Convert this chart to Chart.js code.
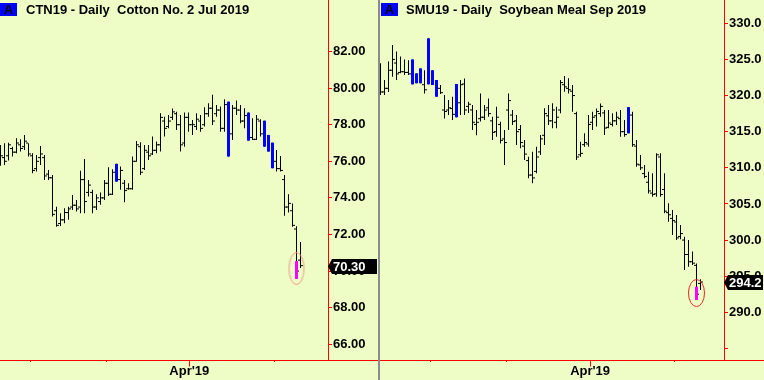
<!DOCTYPE html>
<html><head><meta charset="utf-8">
<script src="https://cdn.jsdelivr.net/npm/chart.js@4.4.1/dist/chart.umd.min.js"></script>
<style>
html,body{margin:0;padding:0;background:#eefcc6;}
#wrap{position:relative;width:764px;height:380px;overflow:hidden;background:#eefcc6;}
canvas{position:absolute;top:0;}
#c1{left:0;}
#c2{left:380px;}
#sep{position:absolute;left:378px;top:0;width:2px;height:380px;background:#8c8c8c;}
.ttl{position:absolute;top:2px;font:bold 13px "Liberation Sans",Arial,sans-serif;color:#000;white-space:pre;line-height:15px;}
.abox{position:absolute;top:3px;width:17px;height:13px;background:#0000ff;color:#000;font:bold 13px "Liberation Sans",Arial,sans-serif;text-align:center;line-height:14px;}
</style>
</head><body>
<div id="wrap">
  <canvas id="c1" width="378" height="380"></canvas>
  <div id="sep"></div>
  <canvas id="c2" width="384" height="380"></canvas>
  <div class="abox" style="left:0px">A</div>
  <div class="ttl" style="left:26px">CTN19 - Daily  Cotton No. 2 Jul 2019</div>
  <div class="abox" style="left:381px">A</div>
  <div class="ttl" style="left:406px">SMU19 - Daily  Soybean Meal Sep 2019</div>
</div>
<script>
// ---------- Cotton (left) ----------
const leftHigh = [76.89,76.99,77.02,76.80,77.26,77.20,77.44,76.99,76.44,76.35,
  76.84,76.35,75.53,75.25,73.52,73.16,73.43,73.52,74.16,73.89,
  75.49,76.13,74.98,74.44,74.20,74.29,74.98,75.67,75.56,75.86,
  75.71,74.98,74.80,76.26,77.11,77.04,76.89,76.89,77.35,77.08,
  78.62,78.44,78.53,78.89,78.71,78.53,78.66,78.66,78.26,78.62,
  78.53,78.95,79.17,79.63,79.08,78.99,79.39,79.26,79.08,79.32,
  79.08,78.90,78.66,78.35,78.53,78.30,78.22,77.44,77.02,76.62,
  76.29,75.25,74.20,73.70,72.45,71.59];
const leftLow = [75.75,75.80,76.04,76.26,76.44,76.53,76.62,76.26,75.35,75.44,
  75.80,74.98,74.98,72.98,72.43,72.47,72.61,72.80,73.34,73.25,
  73.16,73.16,74.07,73.16,73.34,73.62,73.89,74.10,74.16,74.89,
  74.44,73.76,74.44,74.44,75.98,75.25,75.53,76.07,76.35,76.44,
  76.53,77.35,77.80,78.26,77.71,76.53,76.80,77.62,77.44,77.71,
  77.62,77.90,78.44,77.99,78.44,77.62,77.62,76.26,77.17,78.53,
  78.08,77.81,77.13,77.17,77.17,77.35,76.80,76.53,75.62,75.44,
  75.44,73.03,73.20,72.43,69.57,70.17];
const leftOpen = [76.2,76.2,76.3,76.7,76.5,76.9,76.8,77.0,76.3,75.6,
  76.2,76.2,75.3,75.1,73.3,72.6,72.8,73.2,73.5,73.6,
  73.5,75.0,74.3,74.3,73.5,73.8,74.0,74.8,74.2,75.5,
  75.0,74.8,74.5,74.5,76.0,76.8,75.6,76.5,76.4,76.6,
  76.9,78.2,77.9,78.4,78.6,78.0,77.0,78.4,78.0,77.9,
  78.2,78.0,78.6,78.9,78.6,78.8,77.8,78.0,77.5,78.9,
  78.8,78.2,77.5,77.3,77.2,78.2,77.8,77.2,76.8,76.0,
  75.6,75.0,73.5,73.3,72.3,70.6];
const leftClose = [76.3,76.0,76.9,76.5,77.0,76.7,77.1,76.4,75.5,76.0,
  76.4,75.2,75.1,73.1,72.5,72.8,73.2,73.4,73.6,73.4,
  75.0,73.8,74.7,73.5,74.0,74.0,74.8,74.2,75.4,75.2,
  75.5,74.4,74.5,76.0,76.9,75.4,76.6,76.3,76.6,76.9,
  78.4,77.8,78.2,78.7,78.0,76.9,78.4,78.0,78.0,78.3,
  77.8,78.6,78.9,78.2,78.8,77.8,79.1,76.5,78.9,78.8,
  78.2,78.5,77.3,77.2,78.3,77.5,77.0,76.7,75.8,75.6,
  75.5,73.5,73.7,72.5,70.0,70.30];
const leftBlue = [29,57,62,66,67,68];
const leftSignal = [74];
const leftSignalRange = [69.57,70.55];
const leftCircleY = [70.14];
const leftYTicks = [66,68,70,72,74,76,78,80,82];
const leftYLabels = ['66.00','68.00','70.00','72.00','74.00','76.00','78.00','80.00','82.00'];
const leftMonthTicks = [7.4,26.4,47.2,68.4];

// ---------- Soybean Meal (right) ----------
const rightHigh = [324.46,322.15,324.7,327.0,326.1,325.4,325.0,324.9,325.0,323.07,
  323.76,323.5,327.92,323.5,322.15,321.46,320.07,319.38,319.84,321.6,
  322.15,322.35,319.15,318.69,318.0,320.3,318.69,319.6,317.08,318.46,
  316.38,315.23,320.3,318.0,317.3,315.92,313.85,311.54,312.23,312.92,
  314.54,318.23,318.69,318.92,318.46,322.15,322.7,322.4,321.46,317.77,
  313.6,314.77,317.3,317.77,318.2,318.9,318.0,318.0,317.54,317.77,
  318.0,316.6,318.4,317.77,313.85,311.77,310.38,309.46,309.23,312.0,
  312.0,309.23,305.08,304.15,303.46,302.08,300.46,300.0,298.4,296.77,
  294.56];
const rightLow = [320.07,320.07,320.5,322.6,322.15,323.07,322.85,322.85,321.55,321.7,
  321.7,320.3,321.55,321.46,319.84,320.2,316.84,317.3,316.6,317.0,
  317.3,317.3,317.6,315.23,314.5,316.4,316.6,317.08,313.85,314.3,
  313.38,310.38,315.23,315.92,313.16,312.7,311.08,308.54,307.85,309.23,
  311.77,313.16,315.92,315.46,315.46,317.54,320.54,320.3,317.77,311.08,
  311.54,312.92,312.9,315.23,315.7,317.08,314.54,315.46,315.7,315.92,
  314.3,314.3,314.77,312.92,310.15,309.7,308.54,306.46,306.0,306.0,
  306.0,303.7,302.54,300.7,300.0,300.1,295.85,296.3,296.54,291.7,
  293.08];
const rightOpen = [321.5,320.5,321.0,323.5,324.5,323.2,323.3,323.2,323.0,322.0,
  322.5,321.5,322.0,322.0,321.0,321.0,318.0,318.0,318.2,318.0,
  319.0,321.6,318.5,318.0,316.0,316.8,317.0,318.3,316.5,315.0,
  316.0,314.0,318.0,317.3,316.5,315.3,313.0,311.0,309.0,309.5,
  312.2,314.5,317.2,316.5,316.3,318.0,321.5,321.0,320.6,317.5,
  311.8,313.2,313.3,316.3,317.2,317.5,317.6,315.6,316.0,316.5,
  316.8,315.0,316.0,317.3,313.0,310.4,309.2,308.0,306.5,306.4,
  311.5,307.0,303.8,303.0,302.5,300.5,300.0,298.0,297.0,296.5,
  294.0];
const rightClose = [320.5,321.0,323.5,325.0,323.0,323.3,323.2,323.0,322.5,322.2,
  322.0,320.8,322.5,321.8,320.2,320.4,317.8,318.3,317.4,320.5,
  321.5,318.0,318.8,316.3,316.3,317.0,318.0,317.5,314.9,317.0,
  313.8,313.5,319.3,316.4,315.0,313.5,311.9,309.0,308.6,311.5,
  314.0,317.5,316.5,318.0,317.0,321.8,321.2,320.8,320.0,311.5,
  312.0,313.5,316.0,317.0,317.8,318.5,315.5,316.2,316.5,317.0,
  315.0,314.6,315.5,313.2,310.5,310.0,308.8,306.8,306.3,311.8,
  306.3,304.0,303.5,302.7,300.3,300.9,298.0,297.0,296.8,292.5,
  294.2];
const rightBlue = [8,9,10,12,13,14,19,62];
const rightSignal = [79];
const rightSignalRange = [291.7,293.54];
const rightCircleY = [292.67];
const rightYTicks = [285,290,295,300,305,310,315,320,325,330];
const rightYLabels = ['','290.0','295.0','300.0','305.0','310.0','315.0','320.0','325.0','330.0'];
const rightMonthTicks = [12.4,31.4,52.4,73.4];

const monthLabels = ['', '', "Apr'19", ''];

// ---------- rendering ----------
const RED = '#ff0000';
const FONT = '"Liberation Sans", Arial, sans-serif';
Chart.defaults.font.family = FONT;
Chart.defaults.font.size = 13;
Chart.defaults.font.weight = 'bold';
Chart.defaults.color = '#000';

function ellipseImage(rx, ry, color) {
  const c = document.createElement('canvas');
  c.width = Math.ceil(rx * 2 + 3);
  c.height = Math.ceil(ry * 2 + 3);
  const g = c.getContext('2d');
  g.strokeStyle = color; g.lineWidth = 1;
  g.beginPath();
  g.ellipse(c.width / 2, c.height / 2, rx, ry, 0, 0, Math.PI * 2);
  g.stroke();
  return c;
}

function makeDecor(s) {
  return {
    id: 'decor',
    afterDraw(chart) {
      const ctx = chart.ctx, ca = chart.chartArea, xs = chart.scales.x, ys = chart.scales.y;
      const by = Math.round(ca.bottom) + 0.5;
      ctx.save();
      ctx.strokeStyle = RED; ctx.lineWidth = 1;
      ctx.beginPath(); ctx.moveTo(ca.right, by); ctx.lineTo(chart.width, by); ctx.stroke();
      const mi = monthLabels.findIndex(l => l !== '');
      const mx = Math.round(xs.getPixelForValue(s.monthTicks[mi])) + 0.5;
      ctx.beginPath(); ctx.moveTo(mx, by); ctx.lineTo(mx, by + 6); ctx.stroke();
      const last = s.close[s.close.length - 1];
      const yc = Math.round(ys.getPixelForValue(last)) + 0.5;
      const x0 = Math.round(ca.right) + s.tagShift;
      const xr = chart.width - 1;
      ctx.fillStyle = '#000';
      ctx.beginPath();
      ctx.moveTo(x0, yc);
      ctx.lineTo(x0 + 4, yc - 7.5);
      ctx.lineTo(xr, yc - 7.5);
      ctx.lineTo(xr, yc + 7.5);
      ctx.lineTo(x0 + 4, yc + 7.5);
      ctx.closePath(); ctx.fill();
      ctx.fillStyle = '#fff';
      ctx.font = 'bold 13px ' + FONT;
      ctx.textBaseline = 'middle'; ctx.textAlign = 'left';
      ctx.fillText(last.toFixed(s.decimals), x0 + 5, yc + 0.5);
      ctx.restore();
    }
  };
}

function buildChart(id, s) {
  const idx = s.high.map((v, i) => i);
  const plain = idx.filter(i => s.blue.indexOf(i) < 0);
  const barOpts = { type: 'bar', borderWidth: 0, grouped: false, inflateAmount: 0 };
  const tickOpts = { type: 'scatter', pointStyle: 'line', pointRadius: 1, pointBorderWidth: 1,
    pointBorderColor: '#000', borderColor: '#000', backgroundColor: '#000', showLine: false };
  const datasets = [
    { type: 'scatter', order: 0,
      data: s.signal.map((i, k) => ({ x: i, y: s.circleY[k] })),
      pointStyle: ellipseImage(s.ellRx, s.ellRy, s.ellColor), pointRadius: 3 },
    Object.assign({}, barOpts, { order: 1, backgroundColor: '#ff00ff', barThickness: 3,
      data: s.signal.map(i => ({ x: i, y: s.signalRange })) }),
    Object.assign({}, barOpts, { order: 2, backgroundColor: '#0000ff', barThickness: 3,
      data: s.blue.map(i => ({ x: i, y: [s.low[i], s.high[i]] })) }),
    Object.assign({}, tickOpts, { order: 3, data: plain.map(i => ({ x: i - 0.375, y: s.open[i] })) }),
    Object.assign({}, tickOpts, { order: 3, data: plain.map(i => ({ x: i + 0.375, y: s.close[i] })) }),
    Object.assign({}, barOpts, { order: 4, backgroundColor: '#000', barThickness: 1,
      data: idx.map(i => ({ x: i, y: [s.low[i], s.high[i]] })) })
  ];
  return new Chart(document.getElementById(id), {
    type: 'bar',
    data: { datasets },
    plugins: [makeDecor(s)],
    options: {
      responsive: false, animation: false, events: [],
      layout: { padding: 0, autoPadding: false },
      plugins: { legend: { display: false }, title: { display: false }, tooltip: { enabled: false } },
      scales: {
        x: {
          type: 'linear', min: -0.125, max: s.xMax, offset: false,
          grid: { display: true, drawOnChartArea: false, drawTicks: true, tickLength: 2, tickColor: RED, color: RED, offset: false },
          border: { display: true, color: RED, width: 1 },
          ticks: { autoSkip: false, maxRotation: 0, minRotation: 0, padding: 2, color: '#000',
            callback: (v, i) => monthLabels[i] },
          afterBuildTicks: sc => { sc.ticks = s.monthTicks.map(v => ({ value: v })); },
          afterFit: sc => { sc.height = 20; sc.paddingLeft = 0; sc.paddingRight = 0; }
        },
        y: {
          type: 'linear', position: 'right', min: s.yMin, max: s.yMax, beginAtZero: false,
          grid: { display: true, drawOnChartArea: false, drawTicks: true, tickLength: 4, tickColor: RED, color: RED },
          border: { display: true, color: RED, width: 1 },
          ticks: { autoSkip: false, padding: 1, color: '#000', callback: (v, i) => s.yLabels[i] },
          afterBuildTicks: sc => { sc.ticks = s.yTicks.map(v => ({ value: v })); },
          afterFit: sc => { sc.width = s.yWidth; sc.paddingTop = 0; sc.paddingBottom = 0; }
        }
      }
    }
  });
}

buildChart('c1', {
  high: leftHigh, low: leftLow, open: leftOpen, close: leftClose,
  blue: leftBlue, signal: leftSignal, signalRange: leftSignalRange, circleY: leftCircleY,
  yTicks: leftYTicks, yLabels: leftYLabels, monthTicks: leftMonthTicks,
  yMin: 65.142, yMax: 84.814, xMax: 81.875, yWidth: 50, decimals: 2, tagShift: 0,
  ellRx: 7.5, ellRy: 16, ellColor: '#ee9a88'
});
buildChart('c2', {
  high: rightHigh, low: rightLow, open: rightOpen, close: rightClose,
  blue: rightBlue, signal: rightSignal, signalRange: rightSignalRange, circleY: rightCircleY,
  yTicks: rightYTicks, yLabels: rightYLabels, monthTicks: rightMonthTicks,
  yMin: 283.40, yMax: 333.225, xMax: 85.875, yWidth: 40, decimals: 1, tagShift: 0,
  ellRx: 8, ellRy: 13.5, ellColor: '#e02828'
});
</script>
</body></html>
